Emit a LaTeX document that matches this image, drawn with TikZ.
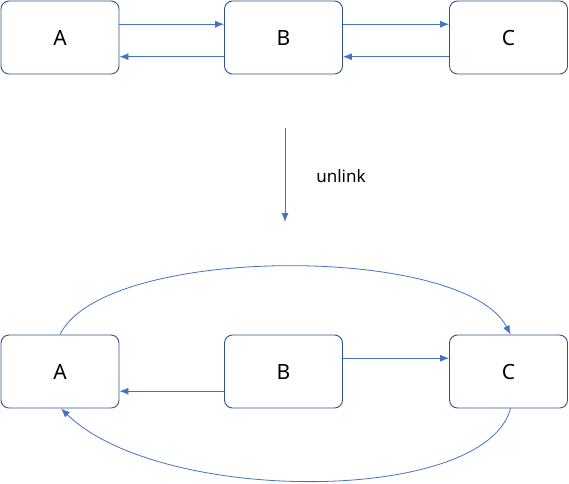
\documentclass[tikz,border=0pt]{standalone}
\usepackage{fontspec}
\setmainfont{Noto Sans}
\usetikzlibrary{arrows.meta}
\tikzset{>={Latex[length=9pt,width=7pt]}}
\definecolor{boxline}{HTML}{2F528F}
\definecolor{linkline}{HTML}{4472C4}
\tikzset{
  item/.style={draw=boxline, rounded corners=8pt, minimum width=118pt, minimum height=73pt, font=\fontsize{21}{24}\selectfont, line width=0.9pt},
  link/.style={->, draw=linkline, line width=0.8pt}
}

\begin{document}
\begin{tikzpicture}[x=1pt, y=-1pt]
    \useasboundingbox (0,0) rectangle (569,483);
    % before
    \node[item] (a1) at (60,37.5) {A};
    \node[item] (b1) at (283.5,37.5) {B};
    \node[item] (c1) at (508.5,37.5) {C};
    \draw[link] ([yshift=13.3pt]a1.east) -- ([yshift=13.3pt]b1.west);
    \draw[link] ([yshift=-19.2pt]b1.west) -- ([yshift=-19.2pt]a1.east);
    \draw[link] ([yshift=13.3pt]b1.east) -- ([yshift=13.3pt]c1.west);
    \draw[link] ([yshift=-19.2pt]c1.west) -- ([yshift=-19.2pt]b1.east);
    % step
    \coordinate (s0) at (285,128);
    \coordinate (s1) at (285,222);
    \draw[link] (s0) -- (s1);
    \node[font=\fontsize{17}{20}\selectfont] (lbl) at (341,176) {unlink};
    % after
    \node[item] (a2) at (60,371.5) {A};
    \node[item] (b2) at (283.5,371.5) {B};
    \node[item] (c2) at (508.5,371.5) {C};
    \draw[link] ([yshift=13.3pt]b2.east) -- ([yshift=13.3pt]c2.west);
    \draw[link] ([yshift=-19.7pt]b2.west) -- ([yshift=-19.7pt]a2.east);
    \draw[link] (a2.north) .. controls (104,244) and (464,244) .. ([xshift=2pt]c2.north);
    \draw[link] ([xshift=2pt]c2.south) .. controls (485,505) and (160,505) .. ([xshift=1pt]a2.south);
\end{tikzpicture}
\end{document}
